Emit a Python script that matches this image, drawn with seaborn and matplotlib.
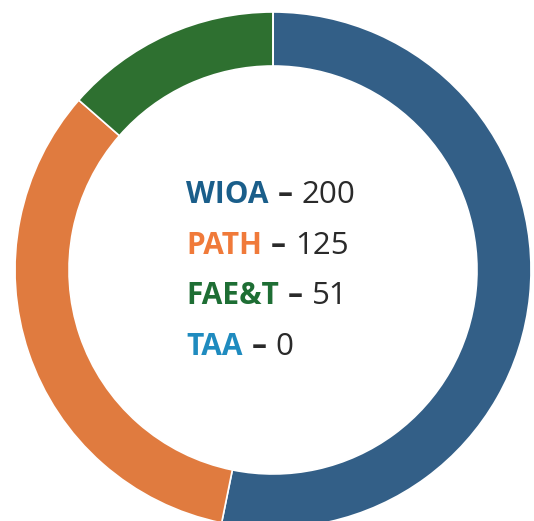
import matplotlib
matplotlib.use("Agg")
import matplotlib.pyplot as plt
import seaborn as sns

sns.set_theme(style="white")
plt.rcParams['font.family'] = ['Open Sans', 'DejaVu Sans']

categories = ["WIOA", "PATH", "FAE&T", "TAA"]
values = [200, 125, 51, 0]
ring_colors = ["#335f87", "#e07b3f", "#2e7030", "#1f8bbf"]
label_colors = ["#1a5e8a", "#f07a3a", "#1e6e34", "#1f8bbf"]

W, H = 534, 521
cx, cy, R = 273, 270, 258
fig = plt.figure(figsize=(W / 100, H / 100), dpi=100)
ax = fig.add_axes([0, 0, 1, 1])
ax.pie(values, colors=ring_colors, startangle=90, counterclock=False,
       radius=1, wedgeprops=dict(width=(R - 204) / R, edgecolor="white", linewidth=1.2))
ax.set_xlim(-cx / R, (W - cx) / R)
ax.set_ylim(-(H - cy) / R, cy / R)
ax.set_aspect("equal")
ax.axis("off")

x0 = (186 - cx) / R
baselines_px = [203, 254, 304, 355]
fig.canvas.draw()
renderer = fig.canvas.get_renderer()
inv = ax.transData.inverted()


def right_edge(t):
    bb = t.get_window_extent(renderer)
    return bb.x1


def px_to_x(px):
    return inv.transform((px, 0))[0]


for cat, val, col, bpx in zip(categories, values, label_colors, baselines_px):
    y = (cy - bpx) / R
    t1 = ax.text(x0, y, cat, color=col, fontsize=21.5, fontweight="bold",
                 ha="left", va="baseline")
    x1 = right_edge(t1)
    t2 = ax.text(px_to_x(x1 + 9), y, "–", color="#2a2a2a", fontsize=21.5,
                 fontweight="bold", ha="left", va="baseline")
    x2 = right_edge(t2)
    ax.text(px_to_x(x2 + 9), y, f"{val}", color="#2a2a2a", fontsize=22.5,
            ha="left", va="baseline")

fig.savefig("out.png", dpi=100)
